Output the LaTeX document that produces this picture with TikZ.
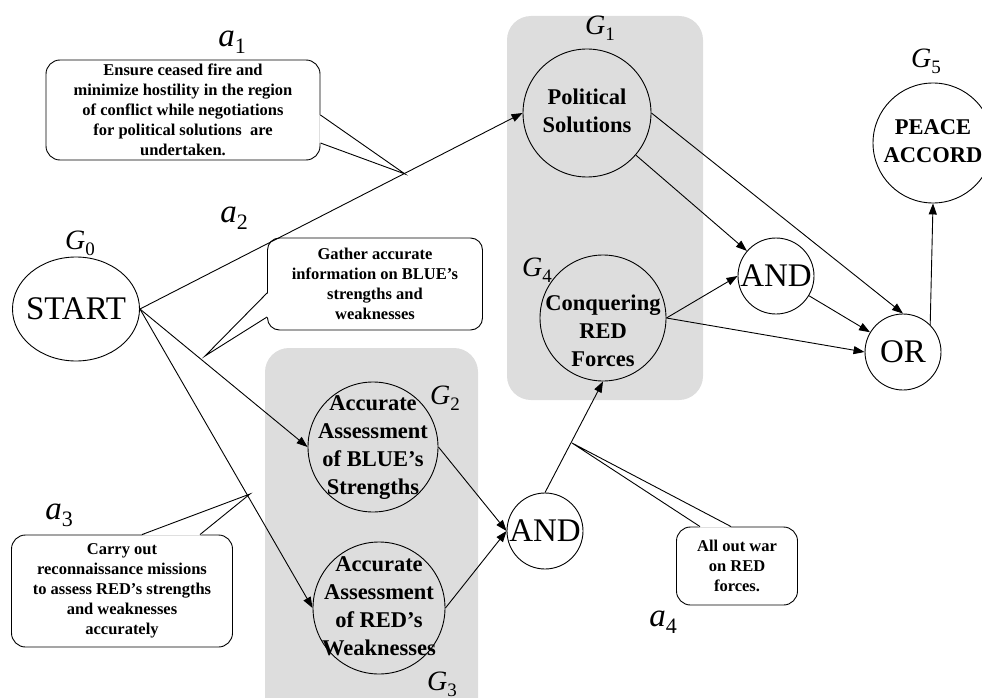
\documentclass[tikz,border=0pt]{standalone}
\usepackage{fontspec}
\setmainfont{Liberation Serif}
\usetikzlibrary{arrows.meta,positioning,calc,shapes.geometric}
\definecolor{zonegray}{RGB}{221,221,221}
\newcommand{\glab}[3]{\textit{#1}\raisebox{-0.22em}{\fontsize{#3}{#3}\selectfont #2}}
\newcommand{\goaltext}[1]{\makebox[0pt]{\begin{tabular}{@{}c@{}}#1\end{tabular}}}
\tikzset{
  goal/.style={circle, draw, line width=0.9pt, inner sep=0pt, minimum size=#1,
               font=\bfseries\fontsize{22.5}{28}\selectfont},
  goalfont/.style={inner sep=0pt, font=\bfseries\fontsize{22.5}{28}\selectfont},
  gate/.style={circle, draw, line width=0.9pt, fill=white, inner sep=0pt, minimum size=76pt,
               font=\fontsize{33}{33}\selectfont},
  note/.style={rectangle, rounded corners=14pt, draw, line width=0.9pt, fill=white,
               align=center, inner sep=0pt, font=\bfseries\fontsize{16.5}{20}\selectfont},
  zone/.style={fill=zonegray, rounded corners=24pt},
  arr/.style={-{Triangle[length=11pt,width=8pt]}, line width=0.9pt},
  tail/.style={line width=0.9pt},
  glabel/.style={font=\fontsize{28}{28}\selectfont},
  alabel/.style={font=\fontsize{33}{33}\selectfont},
}
\begin{document}
\begin{tikzpicture}[x=1pt, y=-1pt]
  \useasboundingbox (0,0) rectangle (982,698);
  % shaded groups
  \fill[zone] (507,16) rectangle (703,400);
  \fill[zone] (265,348) rectangle (478,725);

  % goals
  \node[ellipse, draw, line width=0.9pt, inner sep=0pt, minimum width=127pt, minimum height=104pt,
        font=\fontsize{33}{33}\selectfont] (g0) at (76,309) {\makebox[0pt]{START}};
  \node[goal=128pt] (g1) at (587,113) {\goaltext{Political\\Solutions}};
  \node[goal=130pt] (g2) at (373,447) {\goaltext{Accurate\\Assessment\\of BLUE’s\\Strengths}};
  \node[goal=132pt] (g3) at (379,608) {\goaltext{Accurate\\Assessment\\of RED’s\\Weaknesses}};
  \node[goal=126pt] (g4) at (603,318) {};
  \node[goalfont] (g4t) at (603,333) {\goaltext{Conquering\\RED\\Forces}};
  \node[goal=120pt] (g5) at (933,143) {\goaltext{PEACE\\ACCORD}};
  \node[gate] (and1) at (776,276) {\makebox[0pt]{AND}};
  \node[gate] (orn) at (903,352) {\makebox[0pt]{OR}};
  \node[gate] (and2) at (545,531) {\makebox[0pt]{AND}};

  % goal labels
  \node[glabel] (lg0) at (80,243) {\glab{G}{0}{19pt}};
  \node[glabel] (lg1) at (600,28) {\glab{G}{1}{19pt}};
  \node[glabel] (lg2) at (445,398) {\glab{G}{2}{19pt}};
  \node[glabel] (lg3) at (442,684) {\glab{G}{3}{19pt}};
  \node[glabel] (lg4) at (537,270) {\glab{G}{4}{19pt}};
  \node[glabel] (lg5) at (926,61) {\glab{G}{5}{19pt}};

  % actions
  \node[note, minimum width=274pt, minimum height=100pt] (n1) at (183,110)
    {Ensure ceased fire and\\minimize hostility in the region\\of conflict while negotiations\\for political solutions~ are\\undertaken.};
  \node[note, minimum width=215pt, minimum height=92pt, rounded corners=12pt] (n2) at (375,284)
    {Gather accurate\\information on BLUE’s\\strengths and\\weaknesses};
  \node[note, minimum width=221pt, minimum height=112pt] (n3) at (122,591)
    {Carry out\\reconnaissance missions\\to assess RED’s strengths\\and weaknesses\\accurately};
  \node[note, minimum width=121pt, minimum height=78pt] (n4) at (737,566)
    {All out war\\on RED\\forces.};

  \coordinate (t1) at (405,174);
  \coordinate (t2) at (205,356);
  \coordinate (t3) at (250,494);
  \coordinate (t4) at (572,443);
  \fill[white] ([xshift=-1pt,yshift=-5pt]n1.east) -- (t1) -- ([xshift=-1pt,yshift=-33pt]n1.east) -- cycle;
  \draw[tail] ([yshift=-5pt]n1.east) -- (t1) -- ([yshift=-33pt]n1.east);
  \fill[white] ([xshift=1pt,yshift=-9pt]n2.west) -- (t2) -- ([xshift=1pt,yshift=-33pt]n2.west) -- cycle;
  \draw[tail] ([yshift=-9pt]n2.west) -- (t2) -- ([yshift=-33pt]n2.west);
  \fill[white] ([xshift=20pt,yshift=-1pt]n3.north) -- (t3) -- ([xshift=78pt,yshift=-1pt]n3.north) -- cycle;
  \draw[tail] ([xshift=20pt]n3.north) -- (t3) -- ([xshift=78pt]n3.north);
  \fill[white] ([xshift=-37pt,yshift=-1pt]n4.north) -- (t4) -- ([xshift=-6pt,yshift=-1pt]n4.north) -- cycle;
  \draw[tail] ([xshift=-37pt]n4.north) -- (t4) -- ([xshift=-6pt]n4.north);

  \node[alabel] (la1) at (232,42) {\glab{a}{1}{22pt}};
  \node[alabel] (la2) at (234,218) {\glab{a}{2}{22pt}};
  \node[alabel] (la3) at (59,515) {\glab{a}{3}{22pt}};
  \node[alabel] (la4) at (663,622) {\glab{a}{4}{22pt}};

  % links
  \draw[arr] (g0.east) -- (g1.west);
  \draw[arr] (g0.east) -- (g2.west);
  \draw[arr] (g0.east) -- (g3.west);
  \draw[arr] (g2.east) -- (and2.west);
  \draw[arr] (g3.east) -- (and2.west);
  \draw[arr] (and2.north) -- (g4.south);
  \draw[arr] (g1) -- (and1);
  \draw[arr] (g1.east) -- (orn.north);
  \draw[arr] (g4.east) -- (and1.west);
  \draw[arr] (g4.east) -- (orn.west);
  \draw[arr] (and1) -- (orn);
  \draw[arr] (orn.45) -- (g5.south);
\end{tikzpicture}
\end{document}
